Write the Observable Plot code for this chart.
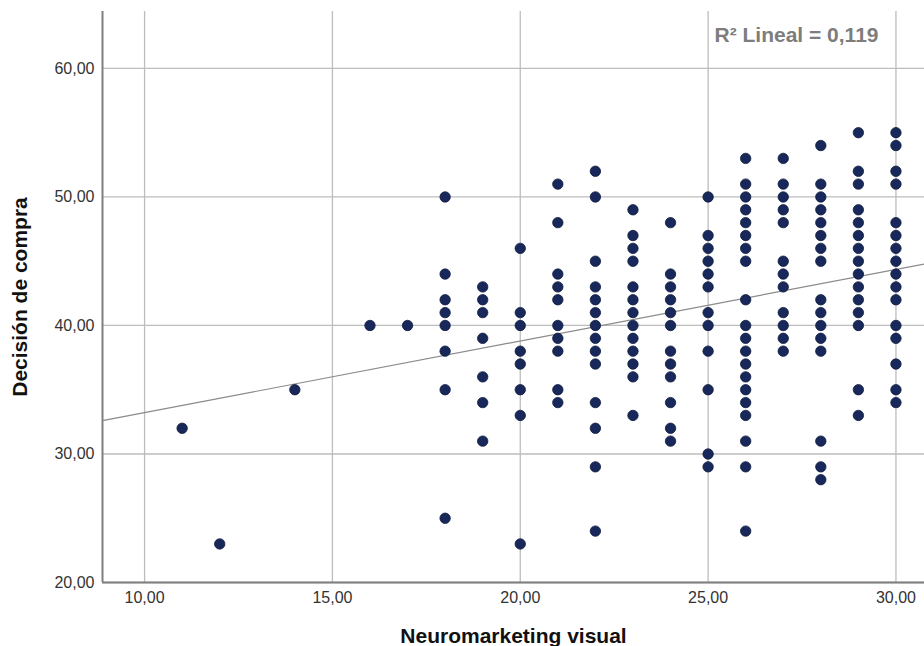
<!DOCTYPE html>
<html>
<head>
<meta charset="utf-8">
<script src="https://cdn.jsdelivr.net/npm/d3@7"></script>
<script src="https://cdn.jsdelivr.net/npm/@observablehq/plot@0.6"></script>
<style>
  html, body { margin: 0; padding: 0; background: #fff; }
  #chart svg { display: block; }
</style>
</head>
<body>
<div id="chart"></div>
<script>
// Neuromarketing visual (x) levels and the Decisión de compra values observed at each level
const visualLevels = [11, 12, 14, 16, 17, 18, 19, 20, 21, 22, 23, 24, 25, 26, 27, 28, 29, 30];
const decisionValues = [
  [32],
  [23],
  [35],
  [40],
  [40],
  [50, 44, 42, 41, 40, 38, 35, 25],
  [43, 42, 41, 39, 36, 34, 31],
  [46, 41, 40, 38, 37, 35, 33, 23],
  [51, 48, 44, 43, 42, 40, 39, 38, 35, 34],
  [52, 50, 45, 43, 42, 41, 40, 39, 38, 37, 34, 32, 29, 24],
  [49, 47, 46, 45, 43, 42, 41, 40, 39, 38, 37, 36, 33],
  [48, 44, 43, 42, 41, 40, 38, 37, 36, 34, 32, 31],
  [50, 47, 46, 45, 44, 43, 41, 40, 38, 35, 30, 29],
  [53, 51, 50, 49, 48, 47, 46, 45, 42, 40, 39, 38, 37, 36, 35, 34, 33, 31, 29, 24],
  [53, 51, 50, 49, 48, 45, 44, 43, 41, 40, 39, 38],
  [54, 51, 50, 49, 48, 47, 46, 45, 42, 41, 40, 39, 38, 31, 29, 28],
  [55, 52, 51, 49, 48, 47, 46, 45, 44, 43, 42, 41, 40, 35, 33],
  [55, 54, 52, 51, 48, 47, 46, 45, 44, 43, 42, 40, 39, 37, 35, 34]
];
const xTicks = [10, 15, 20, 25, 30];
const yTicks = [20, 30, 40, 50, 60];
const xDomain = [8.88, 30.76];
const yDomain = [20, 64.43];
// Linear fit as drawn in the reference (intercept, slope)
const fitIntercept = 27.65;
const fitSlope = 0.557;
const r2Label = "R² Lineal = 0,119";
const xTitle = "Neuromarketing visual";
const yTitle = "Decisión de compra";

const points = visualLevels.flatMap((x, i) => decisionValues[i].map(y => ({x, y})));
const fitLine = xDomain.map(x => ({x, y: fitIntercept + fitSlope * x}));
const fmt = d => d.toFixed(2).replace(".", ",");

const chart = Plot.plot({
  width: 924,
  height: 646,
  marginLeft: 102,
  marginTop: 11,
  marginRight: 0,
  marginBottom: 64,
  style: {fontFamily: "'Liberation Sans', Arial, sans-serif", background: "#fff", fontSize: "16px"},
  x: {domain: xDomain, ticks: xTicks, tickFormat: fmt},
  y: {domain: yDomain, ticks: yTicks, tickFormat: fmt},
  marks: [
    Plot.gridX(xTicks, {stroke: "#bdbdbd", strokeOpacity: 1, strokeWidth: 1.3}),
    Plot.gridY(yTicks, {stroke: "#bdbdbd", strokeOpacity: 1, strokeWidth: 1.3}),
    Plot.axisX(xTicks, {tickSize: 0, tickPadding: 9, fontSize: 16, fill: "#333", label: null, tickFormat: fmt}),
    Plot.axisY(yTicks, {tickSize: 0, tickPadding: 8, fontSize: 16, fill: "#333", label: null, tickFormat: fmt}),
    Plot.ruleX([xDomain[0]], {stroke: "#7f7f7f", strokeWidth: 2}),
    Plot.ruleY([yDomain[0]], {stroke: "#7f7f7f", strokeWidth: 2}),
    Plot.line(fitLine, {x: "x", y: "y", stroke: "#8a8a8a", strokeWidth: 1.2}),
    Plot.dot(points, {x: "x", y: "y", r: 5.2, fill: "#18285a", stroke: "#0e1a3c", strokeWidth: 0.8}),
    Plot.text([r2Label], {frameAnchor: "top-right", dx: -46, dy: 24, textAnchor: "end", lineAnchor: "middle", fontSize: 21, fontWeight: "bold", fill: "#7d7d7d"}),
    Plot.text([yTitle], {frameAnchor: "left", dx: -82, rotate: -90, textAnchor: "middle", lineAnchor: "middle", fontSize: 21, fontWeight: "bold", fill: "#111"}),
    Plot.text([xTitle], {frameAnchor: "bottom", dy: 54, textAnchor: "middle", lineAnchor: "middle", fontSize: 21, fontWeight: "bold", fill: "#111"})
  ]
});
document.getElementById("chart").appendChild(chart);
</script>
</body>
</html>
